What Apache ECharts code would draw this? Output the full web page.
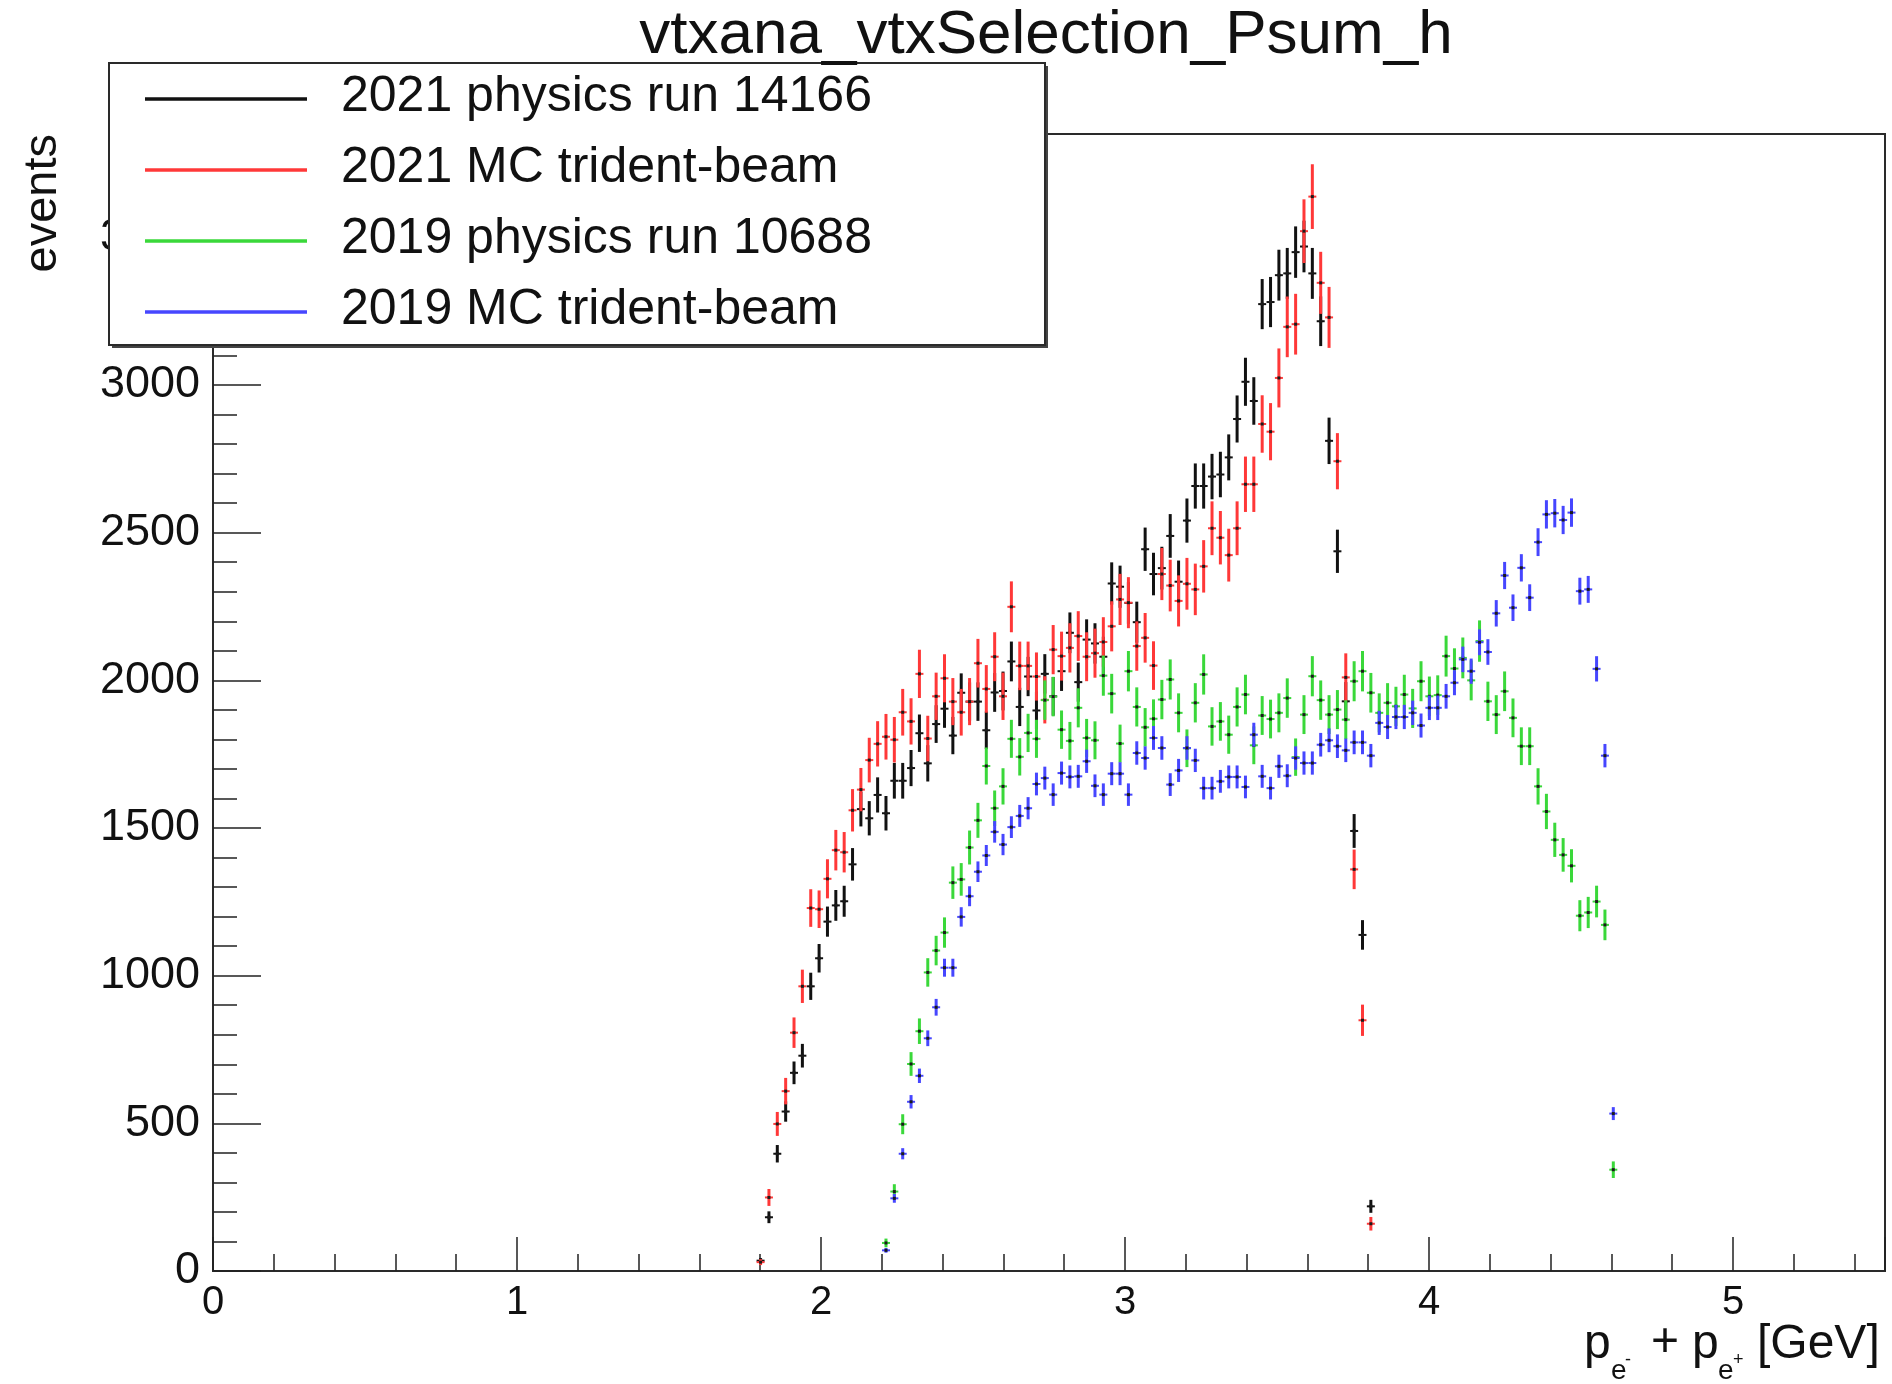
<!DOCTYPE html>
<html>
<head>
<meta charset="utf-8">
<title>vtxana_vtxSelection_Psum_h</title>
<script src="https://cdn.jsdelivr.net/npm/echarts@6/dist/echarts.min.js"></script>
<style>
  html, body { margin: 0; padding: 0; background: #ffffff; }
  #chart { width: 1892px; height: 1384px; }
</style>
</head>
<body>
<div id="chart"></div>
<script>
// Histogram binning: 200 bins over 0 - 5.5 GeV
const binWidth = 0.0275;

// 2021 physics run 14166 (first filled bin 65)
const run2021Start = 65;
const run2021 = [
  35, 182, 397, 540, 671, 729, 964, 1059, 1183, 1238,
  1252, 1377, 1564, 1533, 1612, 1550, 1660, 1660, 1703, 1821,
  1719, 1852, 1904, 1813, 1958, 1928, 1928, 1831, 1959, 1964,
  2064, 1910, 2013, 1898, 2022, 1946, 2031, 2161, 1994, 2138,
  2125, 2080, 2328, 2317, 2262, 2197, 2444, 2360, 2380, 2489,
  2334, 2541, 2658, 2658, 2690, 2697, 2755, 2885, 3011, 2946,
  3274, 3281, 3372, 3378, 3450, 3469, 3378, 3216, 2811, 2437,
  1929, 1490, 1138, 219
];

// 2021 MC trident-beam (first filled bin 65)
const mc2021Start = 65;
const mc2021 = [
  30, 249, 498, 609, 807, 964, 1229, 1225, 1328, 1425,
  1418, 1560, 1630, 1730, 1785, 1809, 1799, 1892, 1861, 2022,
  1803, 1946, 2007, 1928, 1892, 1928, 2058, 1971, 2080, 1946,
  2249, 2049, 2049, 2013, 1934, 2104, 2082, 2110, 2150, 2080,
  2092, 2130, 2183, 2274, 2263, 2116, 2144, 2050, 2360, 2321,
  2269, 2327, 2308, 2386, 2515, 2483, 2424, 2515, 2664, 2664,
  2868, 2842, 3024, 3197, 3206, 3521, 3638, 3346, 3229, 2742,
  2010, 1360, 849, 160
];

// 2019 physics run 10688 (first filled bin 80)
const run2019Start = 80;
const run2019 = [
  95, 269, 497, 701, 812, 1011, 1085, 1146, 1315, 1326,
  1434, 1526, 1710, 1567, 1641, 1802, 1741, 1822, 1802, 1933,
  1945, 1833, 1795, 1907, 1805, 1797, 2016, 1955, 1786, 2031,
  1910, 1841, 1870, 1935, 2003, 1890, 1770, 1924, 2020, 1844,
  1861, 1816, 1910, 1952, 1780, 1881, 1869, 1890, 1940, 1740,
  1884, 2014, 1933, 1884, 1901, 1867, 1997, 2031, 1958, 1890,
  1924, 1912, 1952, 1905, 1997, 1946, 1950, 2082, 2040, 2076,
  2000, 2133, 1929, 1884, 1963, 1873, 1777, 1777, 1641, 1556,
  1460, 1409, 1372, 1203, 1214, 1251, 1172, 343
];

// 2019 MC trident-beam (first filled bin 80)
const mc2019Start = 80;
const mc2019 = [
  70, 246, 397, 573, 661, 788, 893, 1027, 1027, 1199,
  1269, 1352, 1407, 1487, 1444, 1503, 1541, 1567, 1649, 1669,
  1613, 1686, 1673, 1675, 1726, 1643, 1613, 1684, 1684, 1613,
  1754, 1737, 1805, 1771, 1647, 1695, 1771, 1729, 1635, 1635,
  1658, 1673, 1673, 1639, 1816, 1675, 1635, 1709, 1677, 1737,
  1720, 1720, 1782, 1797, 1777, 1763, 1790, 1790, 1745, 1856,
  1842, 1876, 1876, 1890, 1847, 1907, 1907, 1946, 1992, 2071,
  2031, 2129, 2096, 2227, 2355, 2246, 2381, 2280, 2468, 2562,
  2566, 2543, 2568, 2302, 2308, 2039, 1745, 533
];

// Per-histogram weight used for the statistical error sqrt(w * N)
const errWeight = { run2021: 2.2, mc2021: 3.3, run2019: 2.3, mc2019: 0.9 };

// Axis ticks
const xTicks = [0, 1, 2, 3, 4, 5];
const yTicks = [0, 500, 1000, 1500, 2000, 2500, 3000, 3500];

const legendLabels = [
  '2021 physics run 14166',
  '2021 MC trident-beam',
  '2019 physics run 10688',
  '2019 MC trident-beam'
];
const colors = ['#111111', '#ff3838', '#3ad83a', '#4646ff'];

const FONT = '"Liberation Sans", Arial, Helvetica, sans-serif';

function toPoints(start, values, w) {
  return values.map(function (v, k) {
    return [(start + k + 0.5) * binWidth, v, Math.sqrt(w * v)];
  });
}

function errorBarRenderer(color) {
  return function (params, api) {
    const x = api.value(0), y = api.value(1), e = api.value(2);
    const c = api.coord([x, y]);
    const hi = api.coord([x, y + e]);
    const lo = api.coord([x, Math.max(0, y - e)]);
    return {
      type: 'group',
      children: [
        { type: 'line', shape: { x1: c[0], y1: hi[1], x2: c[0], y2: lo[1] },
          style: { stroke: color, lineWidth: 3 } },
        { type: 'line', shape: { x1: c[0] - 4, y1: c[1], x2: c[0] + 4, y2: c[1] },
          style: { stroke: color, lineWidth: 2 } },
        { type: 'rect', shape: { x: c[0] - 1.5, y: c[1] - 1.5, width: 3, height: 3 },
          style: { fill: '#1a1a1a' } }
      ]
    };
  };
}

const seriesData = [
  toPoints(run2021Start, run2021, errWeight.run2021),
  toPoints(mc2021Start, mc2021, errWeight.mc2021),
  toPoints(run2019Start, run2019, errWeight.run2019),
  toPoints(mc2019Start, mc2019, errWeight.mc2019)
];

const series = seriesData.map(function (d, k) {
  return {
    name: legendLabels[k],
    type: 'custom',
    renderItem: errorBarRenderer(colors[k]),
    data: d,
    encode: { x: 0, y: 1 },
    z: 2 + k,
    silent: true,
    animation: false
  };
});

// Legend box drawn as graphics
const legendBox = { x: 109, y: 63, w: 936, h: 282 };
const legendRows = [99, 170, 241, 312];
const legendGraphics = [
  { type: 'rect', z: 100, shape: { x: legendBox.x + 3, y: legendBox.y + 3, width: legendBox.w, height: legendBox.h },
    style: { fill: '#444444' } },
  { type: 'rect', z: 101, shape: { x: legendBox.x, y: legendBox.y, width: legendBox.w, height: legendBox.h },
    style: { fill: '#ffffff', stroke: '#2a2a2a', lineWidth: 2 } }
];
legendLabels.forEach(function (label, k) {
  legendGraphics.push({
    type: 'line', z: 102,
    shape: { x1: 145, y1: legendRows[k], x2: 307, y2: legendRows[k] },
    style: { stroke: colors[k], lineWidth: 3.5 }
  });
  legendGraphics.push({
    type: 'text', z: 102, x: 341, y: legendRows[k] - 2,
    style: { text: label, font: '50px ' + FONT, fill: '#111111', textAlign: 'left', textVerticalAlign: 'middle' }
  });
});

// x-axis title: p_{e^-} + p_{e^+} [GeV]
const xTitleParts = [
  { t: 'p', x: 1584, y: 1345, s: 48 },
  { t: 'e', x: 1611, y: 1371, s: 28 },
  { t: '-', x: 1625, y: 1360, s: 18 },
  { t: '+', x: 1651, y: 1343, s: 48 },
  { t: 'p', x: 1692, y: 1345, s: 48 },
  { t: 'e', x: 1718, y: 1371, s: 28 },
  { t: '+', x: 1733, y: 1360, s: 18 },
  { t: '[GeV]', x: 1757, y: 1345, s: 48 }
];
const xTitleGraphics = xTitleParts.map(function (p) {
  return {
    type: 'text', z: 50, x: p.x, y: p.y,
    style: { text: p.t, font: p.s + 'px ' + FONT, fill: '#111111', textAlign: 'left', textVerticalAlign: 'middle' }
  };
});

const chart = echarts.init(document.getElementById('chart'), null, { renderer: 'canvas' });
chart.setOption({
  backgroundColor: '#ffffff',
  animation: false,
  grid: {
    left: 213, right: 7, top: 134, bottom: 113,
    show: true, borderColor: '#2a2a2a', borderWidth: 2, backgroundColor: 'transparent'
  },
  xAxis: {
    type: 'value',
    min: xTicks[0], max: 5.5, interval: xTicks[1] - xTicks[0],
    axisLine: { show: true, onZero: false, lineStyle: { color: '#2a2a2a', width: 2 } },
    axisTick: { show: true, inside: true, length: 34, lineStyle: { color: '#222222', width: 1.5 } },
    minorTick: { show: true, splitNumber: 5, length: 17, lineStyle: { color: '#222222', width: 1.5 } },
    splitLine: { show: false },
    minorSplitLine: { show: false },
    axisLabel: {
      show: true, margin: 12, fontSize: 40, fontFamily: FONT, color: '#111111',
      showMaxLabel: false,
      formatter: function (v) { return xTicks.indexOf(v) >= 0 ? String(v) : ''; }
    }
  },
  yAxis: {
    type: 'value',
    min: yTicks[0], max: 3850, interval: yTicks[1] - yTicks[0],
    axisLine: { show: true, onZero: false, lineStyle: { color: '#2a2a2a', width: 2 } },
    axisTick: { show: true, inside: true, length: 48, lineStyle: { color: '#222222', width: 1.5 } },
    minorTick: { show: true, splitNumber: 5, length: 24, lineStyle: { color: '#222222', width: 1.5 } },
    splitLine: { show: false },
    minorSplitLine: { show: false },
    axisLabel: {
      show: true, margin: 13, fontSize: 45, fontFamily: FONT, color: '#111111',
      showMaxLabel: false,
      formatter: function (v) { return yTicks.indexOf(v) >= 0 ? String(v) : ''; }
    }
  },
  graphic: [
    {
      type: 'text', z: 120, x: 1046, y: 36,
      style: { text: 'vtxana_vtxSelection_Psum_h', font: '62px ' + FONT, fill: '#111111',
               textAlign: 'center', textVerticalAlign: 'middle' }
    },
    {
      type: 'text', z: 50, x: 43, y: 134, rotation: Math.PI / 2,
      style: { text: 'events', font: '47px ' + FONT, fill: '#111111',
               textAlign: 'right', textVerticalAlign: 'middle' }
    }
  ].concat(xTitleGraphics).concat(legendGraphics),
  series: series
});
</script>
</body>
</html>
